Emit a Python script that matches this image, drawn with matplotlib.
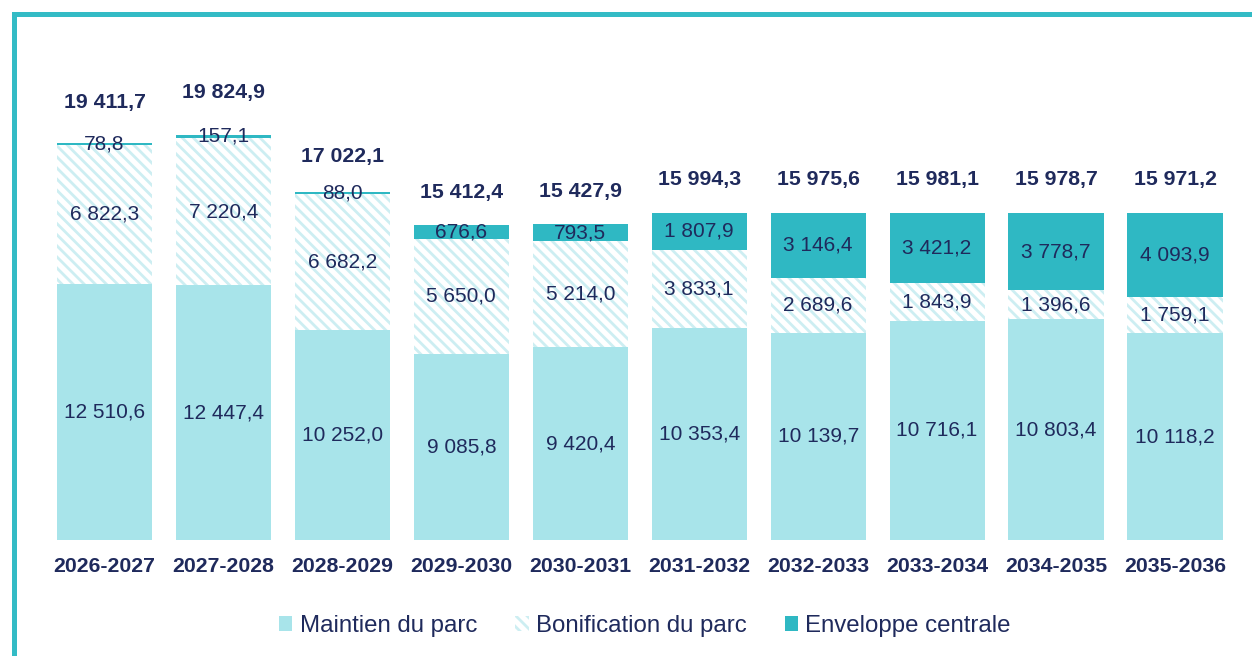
import numpy as np
import matplotlib
matplotlib.use("Agg")
from matplotlib import pyplot as plt
from matplotlib.patches import Rectangle, Patch

plt.rcParams["font.family"] = ["Liberation Sans", "DejaVu Sans"]
plt.rcParams["hatch.linewidth"] = 2.0
plt.rcParams["hatch.color"] = "#CDEEF2"

periods = ["2026-2027", "2027-2028", "2028-2029", "2029-2030", "2030-2031",
           "2031-2032", "2032-2033", "2033-2034", "2034-2035", "2035-2036"]
maintien = np.array([12510.6, 12447.4, 10252.0, 9085.8, 9420.4,
                     10353.4, 10139.7, 10716.1, 10803.4, 10118.2])
bonification = np.array([6822.3, 7220.4, 6682.2, 5650.0, 5214.0,
                         3833.1, 2689.6, 1843.9, 1396.6, 1759.1])
enveloppe = np.array([78.8, 157.1, 88.0, 676.6, 793.5,
                      1807.9, 3146.4, 3421.2, 3778.7, 4093.9])
totals = np.array([19411.7, 19824.9, 17022.1, 15412.4, 15427.9,
                   15994.3, 15975.6, 15981.1, 15978.7, 15971.2])
names = ["Maintien du parc", "Bonification du parc", "Enveloppe centrale"]

c_maint = "#A8E4EA"
c_env = "#2FB8C3"
navy = "#1F2A5C"


def fmt(v):
    s = f"{v:,.1f}".replace(",", " ").replace(".", ",")
    return s


fig = plt.figure(figsize=(12.52, 6.56), dpi=100)
ax = fig.add_axes([45 / 1252, 116 / 656, 1189.5 / 1252, 480 / 656])

x = np.arange(len(periods))
w = 0.8
b1 = ax.bar(x, maintien, w, color=c_maint, linewidth=0)
b2 = ax.bar(x, bonification, w, bottom=maintien, color="white",
            hatch="\\\\\\", linewidth=0)
b3 = ax.bar(x, enveloppe, w, bottom=maintien + bonification, color=c_env, linewidth=0)

for i in range(len(x)):
    ax.text(x[i], maintien[i] / 2, fmt(maintien[i]), ha="center", va="center",
            fontsize=15, color=navy)
    ax.text(x[i], maintien[i] + bonification[i] / 2, fmt(bonification[i]),
            ha="center", va="center", fontsize=15, color=navy)
    ax.text(x[i], maintien[i] + bonification[i] + enveloppe[i] / 2, fmt(enveloppe[i]),
            ha="center", va="center", fontsize=15, color=navy)
    # totals sit at ~110% of the stack height
    ax.text(x[i], totals[i] * 1.103, fmt(totals[i]), ha="center", va="center",
            fontsize=15.3, fontweight="bold", color=navy)

ax.set_xlim(-0.5, len(x) - 0.5)
ax.set_ylim(0, 23470)
ax.set_xticks(x)
ax.set_xticklabels(periods, fontsize=15.3, fontweight="bold", color=navy)
ax.tick_params(axis="x", length=0, pad=12)
ax.set_yticks([])
for s in ax.spines.values():
    s.set_visible(False)

handles = [Patch(facecolor=c_maint, linewidth=0),
           Patch(facecolor="white", hatch="\\\\\\", linewidth=0),
           Patch(facecolor=c_env, linewidth=0)]
fig.legend(handles, names, loc="center", bbox_to_anchor=(645 / 1252, 1 - 626 / 656),
           ncol=3, frameon=False, fontsize=17.3, handlelength=0.55, handleheight=0.55,
           handletextpad=0.3, columnspacing=1.6, labelcolor=navy)

# teal frame, top and left
fig.add_artist(Rectangle((12 / 1252, 1 - 17 / 656), 1, 5 / 656, transform=fig.transFigure,
                         color="#33BBC5", linewidth=0))
fig.add_artist(Rectangle((12 / 1252, 0), 5 / 1252, 1 - 12 / 656, transform=fig.transFigure,
                         color="#33BBC5", linewidth=0))

fig.savefig("out.png", dpi=100)
